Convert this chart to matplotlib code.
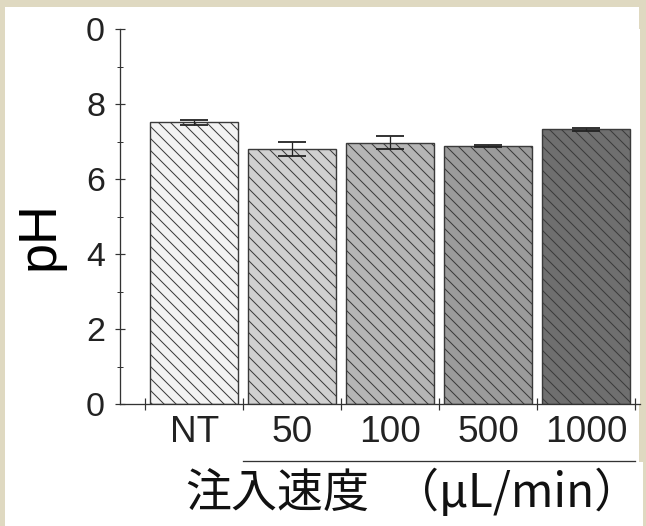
import numpy as np
import matplotlib
matplotlib.use("Agg")
import matplotlib.pyplot as plt
from matplotlib.patches import Rectangle

plt.rcParams['font.family'] = ['Liberation Sans', 'DejaVu Sans']
plt.rcParams['hatch.linewidth'] = 1.0

groups = ['NT', '50', '100', '500', '1000']
ph = [7.52, 6.81, 6.98, 6.89, 7.34]
ph_err = [0.06, 0.19, 0.17, 0.03, 0.04]
fills = ['#f3f3f3', '#d0d0d0', '#b6b6b6', '#9b9b9b', '#6f6f6f']
ytick_vals = [0, 2, 4, 6, 8, 10]
ytick_text = ['0', '2', '4', '6', '8', '0']

W, H = 646, 526
fig = plt.figure(figsize=(W / 72, H / 72), dpi=72)
fig.patch.set_facecolor('white')

# beige frame around the panel
beige = '#dfd9c1'
for x0, y0, w, h in [(0, H - 7, W, 7), (0, 0, 5, H), (639, 64, 7, H - 64), (643, 0, 3, 64)]:
    fig.patches.append(Rectangle((x0 / W, y0 / H), w / W, h / H, transform=fig.transFigure,
                                 facecolor=beige, edgecolor='none', zorder=-1))

ax = fig.add_axes([120 / W, 121.7 / H, 520 / W, 375 / H])
x = np.arange(len(groups))
ax.bar(x, ph, width=0.9, color=fills, edgecolor='#3a3a3a', hatch='\\\\', linewidth=1.4, zorder=2)
ax.errorbar(x, ph, yerr=ph_err, fmt='none', ecolor='#222222', elinewidth=1.3,
            capsize=14, capthick=1.8, zorder=3)

ax.set_xlim(-0.76, 4.55)
ax.set_ylim(0, 10)
for s in ['top', 'right']:
    ax.spines[s].set_visible(False)
for s in ['left', 'bottom']:
    ax.spines[s].set_color('#333333')
    ax.spines[s].set_linewidth(1.3)

ax.set_yticks(ytick_vals, ytick_text)
ax.set_yticks([1, 3, 5, 7, 9], minor=True)
ax.tick_params(axis='y', which='major', direction='inout', length=10, width=1.2,
               color='#333333', labelsize=34, pad=10, labelcolor='#222222')
ax.tick_params(axis='y', which='minor', direction='inout', length=6, width=1.0, color='#333333')

# boundary ticks on the x axis, labels centred under the bars
ax.set_xticks(np.arange(-0.5, 5, 1.0), [''] * 6)
ax.set_xticks(x, groups, minor=True)
ax.tick_params(axis='x', which='major', direction='inout', length=12, width=1.2, color='#333333')
ax.tick_params(axis='x', which='minor', length=0, labelsize=37, pad=11, labelcolor='#222222')

ax.plot([0.5, 4.5], [-1.51, -1.51], color='#333333', lw=1.3, clip_on=False)

fig.text(40 / W, 1 - 236 / H, 'pH', rotation=90, ha='center', va='center',
         fontsize=54, color='black')
cjk = ['Noto Sans CJK JP', 'DejaVu Sans']
fig.text(185 / W, 1 - 494 / H, '注入速度', ha='left', va='center',
         fontsize=46, color='#111111', family=cjk)
fig.text(640 / W, 1 - 494 / H, '（μL/min）', ha='right', va='center',
         fontsize=46, color='#111111', family=cjk)

fig.savefig('out.png', dpi=72)
